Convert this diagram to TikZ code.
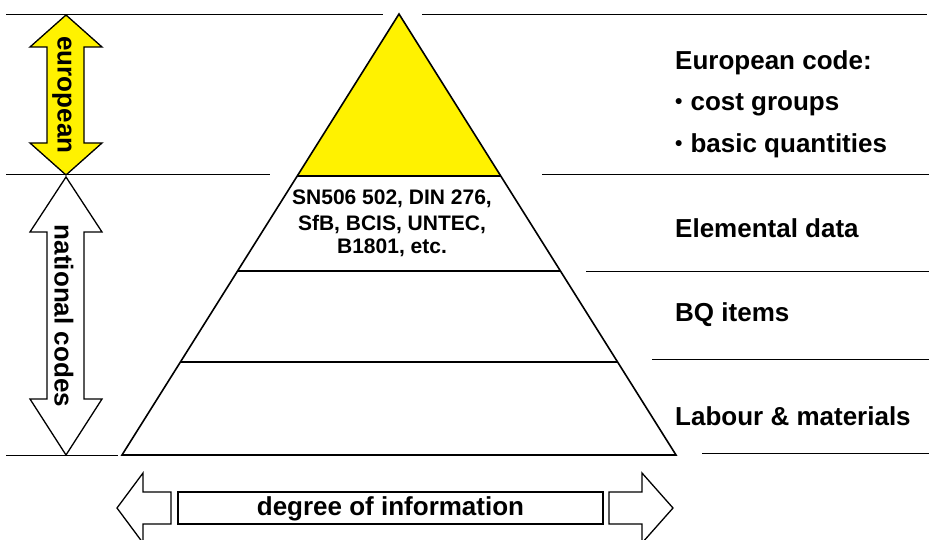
\documentclass[tikz,border=0pt]{standalone}
\usepackage{fontspec}
\setmainfont{Liberation Sans}
\usetikzlibrary{calc}
\newcommand{\smbul}{{\fontsize{21}{24}\selectfont\raisebox{2pt}{\textbullet}}\hspace{8pt}}
\begin{document}
\begin{tikzpicture}[x=1pt,y=-1pt,
  sep/.style={line width=1pt},
  lbl/.style={anchor=base west,inner sep=0pt,font=\fontsize{26}{30}\selectfont\bfseries},
  ptxt/.style={anchor=base,inner sep=0pt,font=\fontsize{21}{24}\selectfont\bfseries},
  vtxt/.style={rotate=-90,inner sep=0pt,font=\fontsize{26}{30}\selectfont\bfseries},
  arr/.style={draw=black,line width=1.3pt,line join=miter},
  tier/.style={line width=2.4pt},
]
\useasboundingbox (0,0) rectangle (929,540);
\clip (0,0) rectangle (929,540);

% separator lines
\draw[sep] (6,15) -- (383,15);
\draw[sep] (422,15) -- (927,15);
\draw[sep] (6,175) -- (270,175);
\draw[sep] (542,175) -- (929,175);
\draw[sep] (586,271) -- (929,271);
\draw[sep] (652,359) -- (929,359);
\draw[sep] (6,455) -- (118,455);
\draw[sep] (702,453) -- (929,453);

% pyramid
\coordinate (apex) at (399,14);
\coordinate (bl) at (122,455);
\coordinate (br) at (676,455);
\coordinate (l1) at ($(apex)!0.3673!(bl)$);
\coordinate (r1) at ($(apex)!0.3673!(br)$);
\coordinate (l2) at ($(apex)!0.5828!(bl)$);
\coordinate (r2) at ($(apex)!0.5828!(br)$);
\coordinate (l3) at ($(apex)!0.7891!(bl)$);
\coordinate (r3) at ($(apex)!0.7891!(br)$);
\fill[yellow] (apex) -- (l1) -- (r1) -- cycle;
\draw[tier] (l1) -- (r1);
\draw[tier] (l2) -- (r2);
\draw[tier] (l3) -- (r3);
\draw[tier] (bl) -- (br);
\draw[line width=1.6pt,line join=miter] (apex) -- (bl) -- (br) -- cycle;

\node[ptxt] (p1) at (392,205) {SN506 502, DIN 276,};
\node[ptxt] (p2) at (392,230) {SfB, BCIS, UNTEC,};
\node[ptxt] (p3) at (392,253) {B1801, etc.};

% right labels
\node[lbl] (eu) at (675,70) {European code:};
\node[lbl] (cg) at (675,111) {\smbul cost groups};
\node[lbl] (bq) at (675,153) {\smbul basic quantities};
\node[lbl] (el) at (675,237) {Elemental data};
\node[lbl] (bi) at (675,321) {BQ items};
\node[lbl] (lm) at (675,425) {Labour \& materials};

% left vertical arrows
\draw[arr,fill=yellow] (66,15) -- (102,47) -- (84,47) -- (84,143) -- (102,143) -- (66,175)
  -- (30,143) -- (47,143) -- (47,47) -- (30,47) -- cycle;
\node[vtxt] (euro) at (62,95) {european};
\draw[arr,fill=white] (66,177) -- (102,232) -- (84,232) -- (84,399) -- (102,399) -- (66,455)
  -- (30,399) -- (47,399) -- (47,232) -- (30,232) -- cycle;
\node[vtxt] (nat) at (64,316) {national codes};

% bottom arrow
\draw[arr] (171,492) -- (143,492) -- (143,473) -- (117,508) -- (143,543) -- (143,524) -- (171,524) -- cycle;
\draw[arr] (609,492) -- (642,492) -- (642,473) -- (673,508) -- (642,543) -- (642,524) -- (609,524) -- cycle;
\draw[arr,line width=1.6pt] (178,492) rectangle (603,524);
\node[anchor=base,inner sep=0pt,font=\fontsize{26}{30}\selectfont\bfseries] (deg) at (390.5,515) {degree of information};
\end{tikzpicture}
\end{document}
